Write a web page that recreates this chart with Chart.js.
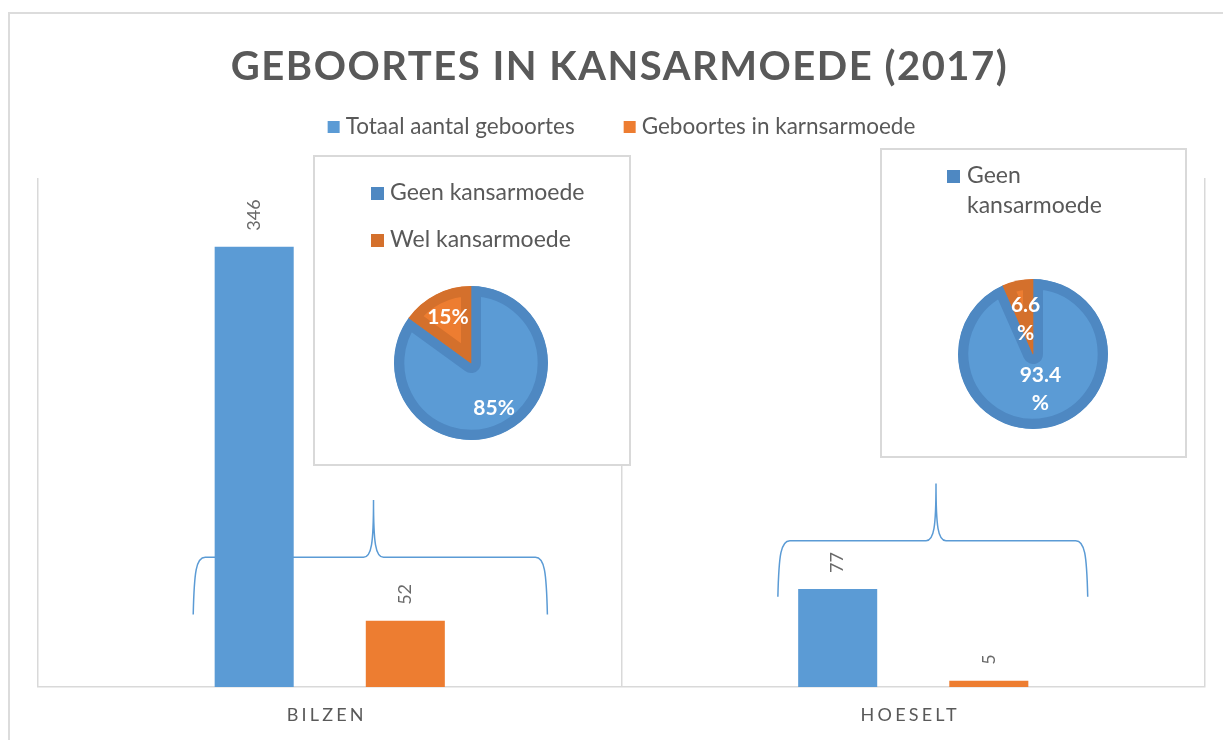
<!DOCTYPE html>
<html>
<head>
<meta charset="utf-8">
<title>Geboortes in kansarmoede (2017)</title>
<script src="https://cdn.jsdelivr.net/npm/chart.js@4.4.1/dist/chart.umd.min.js"></script>
<style>
  html, body { margin: 0; padding: 0; background: #fff; overflow: hidden; }
  #wrap { position: relative; width: 1223px; height: 740px; }
  #frame { position: absolute; left: 8px; top: 12px; width: 1240px; height: 760px; border: 2px solid #dcdcdc; }
  #main { position: absolute; left: 0; top: 0; }
  .inset { position: absolute; border: 2px solid #d9d9d9; background: #fff; }
  .inset canvas { display: block; }
  #inset1 { left: 313px; top: 155px; width: 314px; height: 307px; }
  #inset2 { left: 880px; top: 148px; width: 303px; height: 306px; }
</style>
</head>
<body>
<div id="wrap">
  <div id="frame"></div>
  <canvas id="main" width="1223" height="740"></canvas>
  <div class="inset" id="inset1"><canvas id="pie1" width="314" height="307"></canvas></div>
  <div class="inset" id="inset2"><canvas id="pie2" width="303" height="306"></canvas></div>
</div>
<script>
// data
const chartTitle = 'GEBOORTES IN KANSARMOEDE (2017)';
const categories = ['BILZEN', 'HOESELT'];
const seriesNames = ['Totaal aantal geboortes', 'Geboortes in karnsarmoede'];
const totalBirths = [346, 77];
const povertyBirths = [52, 5];
const pieLabels = ['Geen kansarmoede', 'Wel kansarmoede'];
const bilzenShare = [85, 15];
const hoeseltShare = [93.4, 6.6];

const BLUE = '#5b9bd5';
const ORANGE = '#ed7d31';
const TEXT = '#595959';

// curly braces above each group (x in category widths from centre, y in axis units)
const braces = [
  {cat: 0, from: -0.234, to: 0.373, tip: 0.075, bar: 102, end: 57, top: 147},
  {cat: 1, from: -0.232, to: 0.299, tip: 0.039, bar: 115, end: 71, top: 160}
];

function drawBrace(ctx, x0, x1, xt, yH, yEnd, yTop) {
  ctx.beginPath();
  ctx.moveTo(x0, yEnd);
  ctx.bezierCurveTo(x0 + 1, yH + 14, x0 + 3, yH, x0 + 12, yH);
  ctx.lineTo(xt - 10, yH);
  ctx.bezierCurveTo(xt - 2, yH, xt, yH - 14, xt, yTop);
  ctx.bezierCurveTo(xt, yH - 14, xt + 2, yH, xt + 10, yH);
  ctx.lineTo(x1 - 12, yH);
  ctx.bezierCurveTo(x1 - 3, yH, x1 - 1, yH + 14, x1, yEnd);
  ctx.stroke();
}

const mainDecor = {
  id: 'mainDecor',
  beforeDatasetsDraw(chart) {
    const {ctx, scales: {x, y}} = chart;
    const catW = x.getPixelForValue(1) - x.getPixelForValue(0);
    ctx.save();
    ctx.strokeStyle = BLUE;
    ctx.lineWidth = 1.5;
    braces.forEach(b => {
      const c = x.getPixelForValue(b.cat);
      drawBrace(ctx, c + b.from * catW, c + b.to * catW, c + b.tip * catW,
        y.getPixelForValue(b.bar), y.getPixelForValue(b.end), y.getPixelForValue(b.top));
    });
    ctx.restore();
  },
  afterDraw(chart) {
    const {ctx, chartArea, scales: {x}} = chart;
    const cx = (chartArea.left + chartArea.right) / 2;
    ctx.save();

    // title
    ctx.fillStyle = TEXT;
    ctx.font = 'bold 40px Lato';
    ctx.letterSpacing = '1.5px';
    ctx.textAlign = 'center';
    ctx.textBaseline = 'alphabetic';
    ctx.fillText(chartTitle, cx - 2, 80);

    // legend
    ctx.letterSpacing = '0px';
    ctx.font = '22.5px Lato';
    ctx.textAlign = 'left';
    ctx.textBaseline = 'middle';
    const items = chart.data.datasets.map(d => ({text: d.label, color: d.backgroundColor}));
    const box = 12, gap = 6, itemGap = 49;
    let total = 0;
    items.forEach((it, i) => { it.w = box + gap + ctx.measureText(it.text).width; total += it.w + (i ? itemGap : 0); });
    let lx = cx - total / 2;
    items.forEach(it => {
      ctx.fillStyle = it.color;
      ctx.fillRect(lx, 127 - box / 2, box, box);
      ctx.fillStyle = TEXT;
      ctx.fillText(it.text, lx + box + gap, 127);
      lx += it.w + itemGap;
    });

    // category labels
    ctx.font = '18px Lato';
    ctx.letterSpacing = '3.2px';
    ctx.textAlign = 'center';
    ctx.textBaseline = 'alphabetic';
    categories.forEach((c, i) => ctx.fillText(c, x.getPixelForValue(i) - 3, 721));

    // value labels, rotated
    ctx.letterSpacing = '0px';
    ctx.font = '18px Lato';
    ctx.fillStyle = '#6a6a6a';
    ctx.textAlign = 'left';
    ctx.textBaseline = 'middle';
    chart.data.datasets.forEach((ds, di) => {
      chart.getDatasetMeta(di).data.forEach((bar, i) => {
        ctx.save();
        ctx.translate(bar.x, bar.y - 16);
        ctx.rotate(-Math.PI / 2);
        ctx.fillText(String(ds.data[i]), 0, 0);
        ctx.restore();
      });
    });
    ctx.restore();
  }
};

new Chart(document.getElementById('main'), {
  type: 'bar',
  data: {
    labels: categories,
    datasets: [
      {label: seriesNames[0], data: totalBirths, backgroundColor: BLUE},
      {label: seriesNames[1], data: povertyBirths, backgroundColor: ORANGE}
    ]
  },
  options: {
    responsive: false,
    animation: false,
    categoryPercentage: 0.518,
    barPercentage: 0.523,
    layout: {padding: {left: 38, right: 18, top: 178, bottom: 53}},
    plugins: {legend: {display: false}, title: {display: false}, tooltip: {enabled: false}},
    scales: {
      x: {
        grid: {color: '#d9d9d9', lineWidth: 1.5, drawTicks: false},
        border: {color: '#d9d9d9', width: 1.5},
        ticks: {display: false}
      },
      y: {display: false, min: 0, max: 400}
    }
  },
  plugins: [mainDecor]
});

// inset pie charts
const insetDecor = {
  id: 'insetDecor',
  afterDraw(chart, args, opts) {
    const {ctx} = chart;
    const lg = opts.legend;
    ctx.save();
    ctx.font = '23px Lato';
    ctx.textAlign = 'left';
    ctx.textBaseline = 'middle';
    let ly = lg.y;
    chart.data.labels.slice(0, lg.maxItems).forEach((label, i) => {
      // wrap words into lines that fit maxWidth
      const lines = [];
      let cur = '';
      label.split(' ').forEach(w => {
        const t = cur ? cur + ' ' + w : w;
        if (cur && ctx.measureText(t).width > lg.maxWidth) { lines.push(cur); cur = w; } else cur = t;
      });
      lines.push(cur);
      ctx.fillStyle = chart.data.datasets[0].borderColor[i];
      ctx.fillRect(lg.x, ly - 6, 13, 13);
      ctx.fillStyle = TEXT;
      lines.forEach((ln, k) => ctx.fillText(ln, lg.textX, ly + k * lg.lineGap));
      ly += (lines.length - 1) * lg.lineGap + lg.rowGap;
    });

    // percentage labels
    ctx.font = 'bold 21px Lato';
    ctx.fillStyle = '#fff';
    ctx.textAlign = 'center';
    const ds = chart.data.datasets[0];
    chart.getDatasetMeta(0).data.forEach((arc, i) => {
      const a = (arc.startAngle + arc.endAngle) / 2;
      const r = arc.outerRadius * opts.labelRadius;
      const px = arc.x + Math.cos(a) * r;
      const py = arc.y + Math.sin(a) * r;
      const txt = String(ds.data[i]);
      if (opts.splitPercent) {
        ctx.fillText(txt, px, py - 14);
        ctx.fillText('%', px, py + 14);
      } else {
        ctx.fillText(txt + '%', px, py);
      }
    });
    ctx.restore();
  }
};

function makePie(id, values, pad, decor) {
  return new Chart(document.getElementById(id), {
    type: 'pie',
    data: {
      labels: pieLabels,
      datasets: [{
        data: values,
        backgroundColor: [BLUE, ORANGE],
        borderColor: ['#4e88c2', '#d4702c'],
        borderWidth: 10,
        borderAlign: 'inner',
        hoverOffset: 0
      }]
    },
    options: {
      responsive: false,
      animation: false,
      layout: {padding: pad},
      plugins: {legend: {display: false}, tooltip: {enabled: false}, insetDecor: decor}
    },
    plugins: [insetDecor]
  });
}

makePie('pie1', bilzenShare, {left: 79, top: 129, right: 81, bottom: 24}, {
  labelRadius: 0.66, splitPercent: false,
  legend: {x: 56, y: 36, textX: 75, rowGap: 47, lineGap: 30, maxWidth: 250, maxItems: 2}
});
makePie('pie2', hoeseltShare, {left: 76, top: 129, right: 77, bottom: 27}, {
  labelRadius: 0.48, splitPercent: true,
  legend: {x: 65, y: 26, textX: 85, rowGap: 47, lineGap: 30, maxWidth: 150, maxItems: 1}
});
</script>
</body>
</html>
